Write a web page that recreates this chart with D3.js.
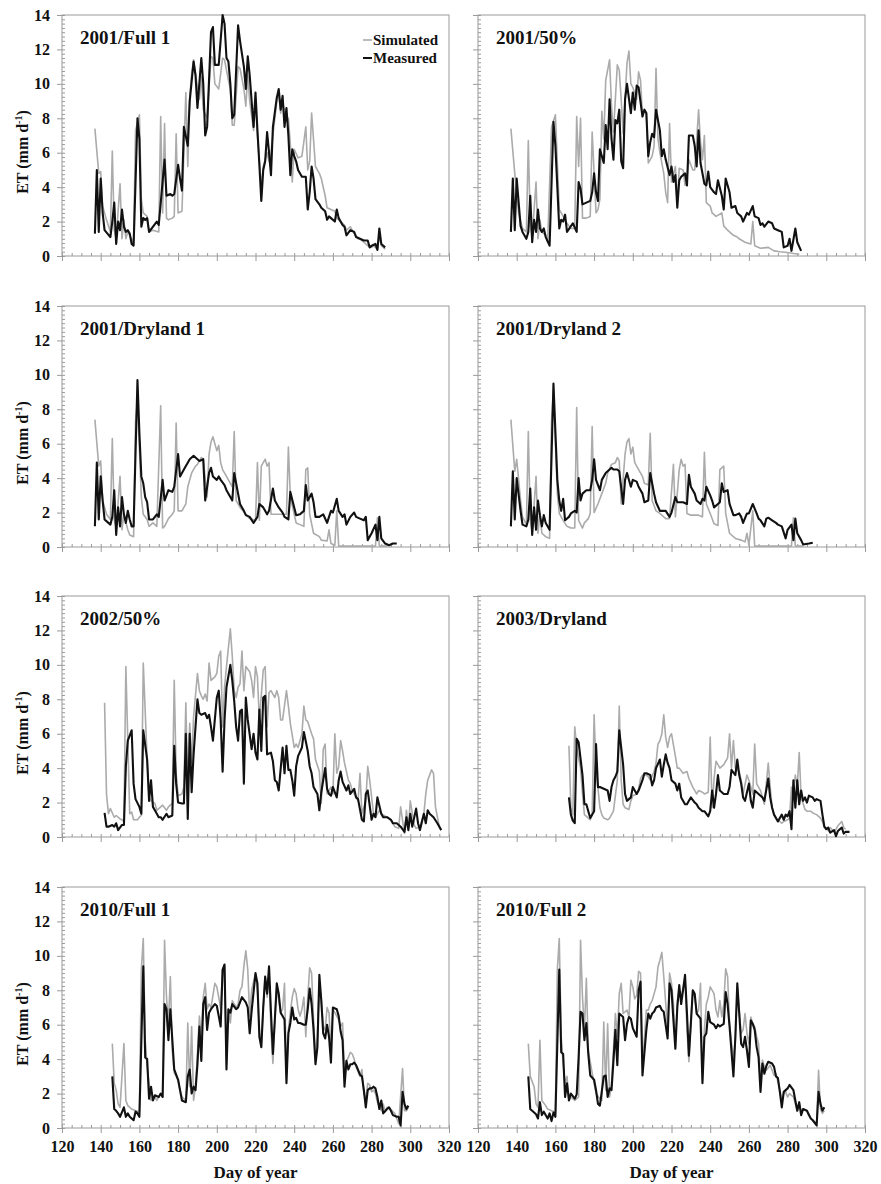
<!DOCTYPE html>
<html>
<head>
<meta charset="utf-8">
<script src="https://cdn.jsdelivr.net/npm/d3@7"></script>
<style>
  body { margin: 0; background: #fff; }
  text { font-family: "Liberation Serif", "Times New Roman", serif; font-weight: bold; fill: #111; }
</style>
</head>
<body>
<div id="viz"></div>
<script>
// axis ticks / labels
var dayTicks = [120, 140, 160, 180, 200, 220, 240, 260, 280, 300, 320];
var etTicks = [0, 2, 4, 6, 8, 10, 12, 14];
var panelTitles = ["2001/Full 1", "2001/50%", "2001/Dryland 1", "2001/Dryland 2",
  "2002/50%", "2003/Dryland", "2010/Full 1", "2010/Full 2"];
var seriesNames = ["Simulated", "Measured"];

// [day of year, ET mm/d]
var sim2001Full1 = [[137,7.4],[139,4.8],[140,4.9],[141,2.9],[143,2.1],[145,1.4],[146,6.1],[147,1.5],[148,1.0],[150,4.2],[151,1.0],[152,2.1],[153,1.0],[154,1.4],[156,1.0],[157,0.8],[158,7.3],[160,8.2],[161,3.3],[162,2.5],[164,2.3],[165,1.4],[167,1.5],[170,1.4],[171,8.1],[172,2.5],[173,7.7],[174,2.2],[175,2.1],[177,2.2],[178,2.3],[179,7.1],[180,2.5],[182,2.6],[184,9.5],[185,5.2],[186,9.1],[187,10.6],[188,11.4],[190,9.8],[191,9.1],[192,10.4],[193,8.5],[195,8.0],[197,11.6],[198,11.5],[199,10.0],[201,9.7],[203,11.5],[204,11.4],[206,10.2],[207,9.7],[208,7.6],[209,7.6],[211,11.0],[212,10.9],[214,9.7],[215,8.7],[216,10.5],[217,9.0],[219,7.3],[220,9.0],[221,7.0],[222,5.5],[223,4.0],[224,5.2],[226,6.0],[227,5.5],[228,6.0],[231,9.0],[232,9.5],[233,8.3],[234,9.0],[236,7.8],[237,8.0],[238,6.5],[239,4.3],[240,6.2],[242,5.7],[244,5.8],[246,7.5],[247,5.0],[248,5.5],[249,8.3],[251,5.2],[253,4.8],[254,4.5],[256,3.5],[257,2.8],[259,2.7],[261,2.6],[262,2.2],[264,2.0],[266,1.8],[267,1.5],[269,1.7],[271,1.3],[273,1.0],[274,1.0],[276,0.8],[278,0.6],[280,0.5],[281,0.6],[283,0.4],[284,1.2],[285,0.6],[287,0.4]];
var meas2001Full1 = [[137,1.3],[138,5.0],[139,1.4],[140,4.5],[141,2.5],[142,1.5],[145,1.1],[146,2.0],[147,3.1],[148,0.7],[149,2.0],[150,1.5],[151,2.7],[152,1.7],[153,1.4],[154,1.5],[155,1.3],[156,0.7],[157,0.6],[159,8.0],[160,6.8],[161,1.7],[162,2.2],[163,2.1],[164,2.2],[165,1.4],[169,2.0],[170,1.8],[173,5.6],[174,3.5],[176,3.6],[177,3.5],[178,3.6],[180,5.3],[181,4.5],[182,3.8],[183,7.5],[185,6.4],[186,9.0],[188,11.3],[189,10.5],[190,8.6],[192,11.5],[193,10.0],[194,7.0],[195,7.5],[197,13.0],[198,13.3],[199,11.1],[201,11.1],[203,14.0],[204,13.5],[205,11.5],[206,11.3],[207,10.0],[208,8.0],[209,8.2],[211,13.4],[212,12.5],[214,11.0],[215,9.7],[216,11.6],[217,10.5],[219,7.5],[220,9.5],[221,7.3],[222,5.3],[223,3.2],[224,5.0],[225,5.5],[226,7.2],[227,6.0],[228,4.7],[229,7.5],[231,9.2],[232,9.7],[233,8.5],[234,9.3],[235,7.5],[236,8.6],[237,7.0],[238,4.7],[239,6.2],[240,5.8],[241,5.5],[242,5.0],[244,4.6],[245,4.6],[246,4.6],[247,2.7],[248,3.7],[249,5.2],[250,4.5],[251,3.3],[253,3.0],[254,2.8],[256,2.6],[257,2.1],[258,2.3],[259,2.2],[261,2.0],[262,2.7],[263,2.2],[265,1.8],[266,1.7],[267,1.2],[269,1.5],[271,1.4],[272,1.1],[274,1.0],[276,0.9],[278,0.9],[279,0.5],[280,0.6],[282,0.7],[283,0.35],[284,1.6],[285,0.7],[287,0.5]];

var sim2001Half = [[137,7.4],[139,4.8],[141,2.5],[143,1.6],[145,1.4],[146,6.7],[147,1.75],[148,1.1],[150,4.3],[151,1.0],[152,2.1],[153,1.4],[155,1.2],[156,0.8],[158,7.5],[160,8.2],[162,2.7],[163,2.5],[166,1.9],[168,1.6],[170,1.6],[171,8.1],[172,5.2],[173,8.0],[174,2.2],[176,2.2],[178,2.3],[179,7.2],[181,2.5],[182,2.7],[183,3.3],[184,8.4],[185,6.8],[186,10.2],[188,11.4],[189,8.7],[190,7.2],[192,11.1],[193,10.8],[194,9.1],[195,7.1],[197,11.2],[198,11.9],[199,10.0],[200,9.8],[202,9.1],[203,10.7],[204,10.2],[205,8.1],[206,8.5],[207,8.3],[208,5.4],[210,5.8],[211,6.4],[212,10.9],[213,6.8],[214,6.0],[216,4.8],[217,3.7],[218,3.1],[219,7.7],[220,4.3],[222,5.2],[223,3.1],[224,5.1],[226,5.0],[227,4.1],[228,4.6],[229,5.6],[231,5.0],[232,5.0],[234,8.5],[235,6.6],[236,5.6],[237,7.0],[238,3.1],[240,2.9],[241,2.5],[243,2.3],[246,2.5],[247,1.75],[249,1.5],[252,1.2],[254,1.1],[255,1.0],[258,0.8],[261,0.7],[262,2.0],[263,0.6],[266,0.45],[270,0.5],[273,0.3],[276,0.25],[280,0.2],[283,0.15],[286,0.1]];
var meas2001Half = [[137,1.4],[138,4.5],[139,1.5],[140,4.5],[142,1.75],[143,1.4],[145,1.0],[146,1.4],[147,3.5],[148,0.8],[149,2.1],[150,1.4],[151,2.7],[152,1.6],[153,1.4],[154,1.6],[155,1.1],[157,0.6],[159,7.8],[160,6.4],[162,1.6],[163,2.1],[164,2.0],[165,2.4],[166,1.4],[169,1.9],[171,1.4],[172,4.3],[173,3.9],[174,3.0],[176,3.1],[178,3.2],[179,3.7],[180,4.8],[181,3.7],[182,3.2],[183,6.2],[185,5.4],[186,7.6],[187,6.2],[188,9.1],[189,6.8],[190,5.6],[191,7.9],[192,7.7],[193,8.5],[194,5.5],[195,5.1],[196,9.1],[197,10.0],[199,8.3],[200,9.5],[201,8.5],[202,9.9],[203,9.8],[205,8.1],[206,8.5],[207,8.3],[208,5.8],[209,6.6],[210,7.1],[211,6.9],[212,8.5],[214,7.3],[215,5.8],[216,6.2],[217,5.6],[219,4.7],[220,5.2],[221,4.3],[222,4.7],[223,2.8],[224,4.4],[225,4.6],[227,4.8],[228,4.1],[229,7.0],[231,7.0],[232,6.4],[233,5.2],[234,7.3],[235,5.4],[237,4.2],[238,4.1],[239,4.9],[240,4.0],[242,3.7],[243,3.6],[244,4.4],[246,3.5],[247,2.7],[248,4.5],[250,3.7],[251,2.8],[253,2.9],[254,2.5],[256,2.3],[257,2.0],[259,2.5],[260,2.4],[262,2.9],[263,2.3],[265,2.2],[266,1.8],[267,1.9],[268,1.7],[270,2.0],[272,1.9],[273,1.6],[275,1.5],[277,1.4],[278,0.5],[280,0.6],[281,1.0],[282,0.3],[284,1.6],[285,0.8],[287,0.3]];

var sim2001Dry1 = [[137,7.4],[139,4.7],[140,5.0],[141,2.7],[143,1.9],[145,1.6],[146,6.3],[147,1.6],[148,1.1],[150,4.1],[151,1.0],[152,1.9],[154,1.0],[155,0.7],[157,0.6],[158,7.3],[159,8.5],[161,2.9],[162,1.9],[164,1.6],[165,1.2],[167,1.4],[169,1.2],[171,8.2],[172,1.1],[173,1.2],[175,1.65],[177,1.9],[178,2.1],[179,7.2],[180,2.1],[182,2.1],[184,2.5],[185,3.5],[187,4.3],[189,4.7],[190,4.8],[192,5.2],[193,5.1],[195,2.9],[196,5.4],[197,6.1],[198,6.4],[200,5.6],[201,5.9],[202,4.9],[203,4.5],[205,4.1],[207,3.7],[208,3.5],[209,6.7],[210,2.7],[212,2.3],[215,1.9],[217,1.65],[220,1.55],[221,4.9],[222,1.55],[223,4.7],[225,5.1],[226,4.7],[227,4.9],[228,1.9],[229,1.9],[231,1.9],[234,1.9],[236,1.9],[237,5.8],[238,2.9],[240,1.9],[241,1.4],[243,1.3],[245,1.2],[246,4.5],[247,4.6],[248,1.9],[250,0.8],[253,0.6],[254,0.4],[257,0.35],[258,1.0],[259,0.2],[261,0.1],[262,2.1],[263,0.05],[267,0.05],[274,0.05],[282,0.05],[283,1.7],[284,0.05],[288,0.05]];
var meas2001Dry1 = [[137,1.2],[138,4.9],[139,1.6],[140,4.1],[141,2.7],[142,1.6],[144,1.4],[145,1.3],[146,1.75],[147,3.3],[148,0.7],[149,2.3],[150,1.2],[151,2.9],[152,1.9],[153,1.4],[154,2.1],[155,1.6],[156,1.2],[157,1.2],[159,9.7],[160,6.6],[161,4.1],[162,3.7],[163,2.9],[164,2.6],[165,1.6],[167,1.6],[169,1.9],[170,1.75],[172,3.9],[173,2.7],[175,3.3],[177,3.2],[178,3.5],[180,5.4],[181,4.1],[182,4.3],[184,4.7],[185,4.9],[186,5.1],[188,5.3],[190,5.1],[191,5.0],[193,5.1],[194,2.7],[196,4.3],[197,4.6],[198,4.1],[200,3.9],[201,4.1],[202,3.9],[204,3.6],[205,3.3],[207,2.9],[208,2.7],[209,4.3],[211,3.1],[212,2.5],[214,2.1],[215,1.85],[217,1.75],[219,1.4],[221,1.75],[222,2.5],[224,2.3],[226,1.9],[227,2.1],[229,3.4],[230,2.7],[232,2.3],[234,2.0],[235,1.75],[237,1.6],[238,3.2],[240,2.3],[241,1.85],[243,1.9],[245,2.1],[246,3.6],[247,2.7],[249,3.1],[250,2.6],[251,1.75],[253,1.75],[255,1.9],[257,1.4],[259,2.1],[260,2.0],[262,2.8],[263,2.1],[265,1.75],[266,1.9],[267,1.3],[269,1.75],[271,2.0],[272,1.75],[274,1.65],[276,1.55],[277,1.75],[278,0.4],[280,0.8],[282,1.3],[283,0.4],[284,1.75],[285,0.5],[287,0.2],[289,0.1],[291,0.2],[293,0.2]];

var sim2001Dry2 = [[137,7.4],[139,4.4],[140,5.1],[142,2.7],[143,1.75],[145,1.3],[146,6.7],[147,1.55],[148,0.8],[150,4.1],[151,0.8],[152,1.95],[153,0.8],[155,0.6],[157,0.5],[158,7.3],[159,9.1],[161,3.1],[162,1.95],[164,1.55],[166,1.2],[168,1.1],[170,1.1],[171,8.1],[172,1.55],[174,1.1],[175,1.4],[177,1.65],[178,1.95],[179,7.0],[180,2.0],[182,2.5],[184,3.1],[186,3.7],[187,4.3],[189,4.8],[191,4.9],[192,5.2],[193,5.0],[194,2.5],[196,5.4],[197,6.1],[198,6.3],[199,5.4],[200,5.8],[201,4.9],[203,4.5],[205,4.1],[206,3.7],[208,3.6],[209,6.6],[210,2.7],[212,2.1],[214,1.95],[217,1.65],[219,1.65],[221,4.8],[222,1.75],[224,4.5],[225,5.1],[226,4.7],[227,4.8],[228,1.95],[230,1.85],[231,1.85],[234,1.85],[236,1.75],[237,5.5],[238,2.5],[240,1.95],[242,1.35],[244,1.25],[245,4.5],[247,4.7],[248,1.95],[250,0.8],[253,0.5],[256,0.4],[258,0.3],[259,0.8],[260,0.1],[262,2.1],[263,0.05],[269,0.05],[276,0.05],[282,0.05],[283,1.7],[284,0.05],[288,0.05]];
var meas2001Dry2 = [[137,1.2],[138,4.4],[139,1.6],[140,4.0],[142,2.1],[143,1.3],[145,1.2],[146,1.6],[147,3.4],[148,0.7],[149,2.3],[150,1.0],[151,2.7],[152,1.85],[153,1.2],[154,1.85],[155,1.4],[157,1.0],[159,9.5],[161,3.9],[162,2.7],[163,2.1],[164,2.8],[165,1.55],[167,1.75],[168,1.95],[170,2.1],[171,2.0],[172,4.0],[173,2.7],[174,3.1],[176,3.3],[178,3.3],[179,3.9],[180,5.1],[181,3.9],[183,3.3],[184,3.9],[186,4.3],[187,4.4],[189,4.6],[190,4.5],[192,4.5],[193,4.4],[195,2.5],[196,3.9],[197,4.3],[199,3.5],[200,3.9],[202,3.8],[203,3.5],[205,3.1],[206,2.6],[208,2.7],[209,4.3],[211,3.1],[212,2.6],[214,2.1],[215,2.1],[217,2.1],[219,1.75],[220,2.0],[222,2.9],[223,2.6],[224,2.6],[226,2.6],[228,2.5],[229,4.2],[230,3.5],[232,3.1],[233,2.7],[235,2.5],[236,2.8],[237,2.7],[238,3.5],[240,3.0],[241,2.7],[242,2.3],[244,2.5],[245,2.6],[246,3.7],[247,3.2],[249,3.3],[250,2.5],[252,1.85],[253,1.85],[255,1.95],[256,1.75],[257,1.4],[259,1.95],[260,1.95],[262,2.5],[264,1.95],[265,1.65],[266,1.55],[268,1.2],[269,1.65],[270,1.7],[272,1.55],[274,1.4],[275,1.3],[277,1.2],[279,0.5],[280,1.0],[282,1.3],[283,0.4],[284,1.65],[285,0.8],[287,0.4],[288,0.15],[291,0.2],[293,0.25]];

var sim2002Half = [[142,7.8],[143,2.5],[144,1.35],[145,1.65],[147,1.15],[148,1.25],[150,1.05],[151,1.0],[152,0.9],[153,9.9],[155,1.35],[156,1.45],[157,1.0],[159,1.0],[160,1.15],[161,1.25],[162,10.1],[164,4.5],[165,2.3],[166,2.1],[168,1.95],[169,1.55],[171,1.75],[172,1.85],[174,1.55],[175,1.75],[177,1.95],[178,9.1],[179,3.7],[180,2.4],[182,2.5],[183,2.9],[184,7.8],[185,2.5],[186,6.6],[187,4.3],[188,7.0],[190,9.5],[191,8.5],[192,8.2],[193,8.0],[194,8.3],[195,7.9],[196,10.1],[197,9.1],[199,9.3],[200,9.5],[201,10.5],[202,10.8],[203,6.4],[204,8.7],[205,9.9],[207,12.1],[208,10.5],[209,8.5],[210,8.1],[211,8.7],[212,8.9],[213,10.8],[214,8.5],[215,9.9],[217,9.6],[218,9.1],[219,8.1],[220,9.9],[221,9.3],[222,6.8],[224,9.7],[225,9.9],[226,6.4],[227,8.4],[228,8.5],[230,8.1],[231,8.5],[232,8.1],[233,6.8],[234,6.8],[236,8.5],[237,7.6],[238,6.6],[240,5.2],[241,5.4],[242,5.2],[244,6.0],[245,7.6],[246,6.8],[247,6.7],[249,6.0],[250,5.7],[251,4.5],[253,3.8],[254,1.95],[255,5.1],[256,5.4],[257,2.5],[259,2.9],[260,2.5],[261,6.0],[262,3.7],[263,4.1],[264,5.6],[265,5.0],[266,4.3],[268,3.3],[269,3.1],[270,2.7],[272,2.3],[273,2.1],[274,3.7],[275,1.35],[277,2.1],[278,4.1],[279,3.3],[281,1.35],[282,1.15],[284,1.55],[285,1.35],[288,1.15],[290,1.0],[292,0.6],[294,0.5],[295,1.75],[297,0.2],[298,1.55],[299,0.5],[300,2.1],[302,0.7],[303,0.5],[305,0.6],[307,1.35],[308,2.5],[309,3.3],[311,3.9],[312,3.7],[313,1.75],[315,0.6]];
var meas2002Half = [[142,1.4],[143,0.6],[144,0.6],[146,0.7],[147,0.6],[148,0.8],[149,0.4],[151,0.7],[152,0.7],[153,4.1],[154,5.6],[156,6.2],[157,3.1],[158,2.2],[160,1.75],[161,1.35],[162,6.2],[164,4.5],[165,2.1],[166,3.3],[167,1.75],[168,1.55],[170,1.15],[171,1.15],[172,1.0],[174,1.35],[175,1.15],[177,1.25],[178,5.3],[179,3.1],[180,2.0],[182,1.95],[183,1.95],[184,6.0],[185,1.05],[186,6.0],[187,2.6],[188,4.8],[190,8.0],[191,7.2],[192,7.1],[194,7.2],[195,6.9],[196,7.1],[197,6.4],[198,5.6],[200,8.1],[201,8.5],[202,6.8],[203,3.8],[204,6.8],[205,8.7],[207,10.0],[208,9.1],[209,7.9],[210,6.4],[211,5.6],[212,7.3],[213,7.4],[214,3.1],[215,8.1],[216,6.8],[218,5.1],[219,6.0],[220,4.9],[221,4.5],[222,7.4],[223,5.0],[224,8.1],[225,8.2],[226,4.8],[228,4.9],[229,4.4],[230,3.3],[231,3.2],[232,2.7],[234,5.2],[235,3.7],[236,5.3],[237,3.9],[238,3.9],[239,3.3],[240,2.4],[241,4.1],[242,4.7],[244,5.2],[245,6.1],[247,5.0],[248,4.1],[249,3.7],[250,2.9],[252,2.5],[253,1.55],[254,2.6],[256,4.0],[257,2.8],[258,2.5],[259,2.4],[260,2.9],[262,2.3],[263,3.3],[264,3.8],[265,3.2],[267,2.7],[268,3.0],[269,2.5],[271,2.8],[272,2.3],[273,2.2],[275,1.0],[276,0.9],[277,2.5],[278,2.7],[280,1.0],[281,1.35],[282,1.15],[283,2.3],[285,1.35],[286,1.15],[288,1.15],[290,1.0],[291,0.8],[293,0.8],[295,0.6],[297,0.3],[298,1.15],[299,0.4],[300,1.35],[301,0.6],[303,1.65],[304,0.8],[305,0.4],[307,1.35],[308,0.8],[309,1.55],[310,1.35],[312,1.15],[314,0.8],[316,0.4]];

var sim2003Dry = [[167,5.3],[168,1.7],[169,1.3],[170,6.4],[171,5.2],[173,4.0],[174,2.5],[175,1.3],[177,1.1],[178,1.0],[179,1.3],[180,7.1],[181,4.0],[183,1.7],[184,1.3],[185,1.1],[187,1.0],[188,1.1],[189,1.3],[190,1.5],[192,3.3],[193,7.6],[194,3.3],[195,1.9],[196,1.7],[198,1.6],[199,2.1],[200,2.4],[202,2.5],[203,2.8],[204,3.4],[205,3.6],[207,3.6],[208,3.5],[209,3.3],[211,3.8],[212,4.3],[213,5.4],[214,5.6],[215,6.0],[216,7.1],[217,5.8],[218,5.2],[219,5.8],[220,6.0],[222,4.7],[223,4.0],[224,4.0],[226,3.7],[228,3.8],[229,3.4],[231,2.9],[233,2.5],[234,2.7],[236,2.6],[237,2.5],[239,2.6],[240,5.8],[241,1.7],[242,3.4],[243,4.4],[244,4.2],[245,4.0],[247,4.2],[248,4.4],[249,4.6],[250,6.0],[251,4.0],[252,5.6],[253,4.0],[255,3.8],[256,3.3],[257,2.5],[259,3.6],[260,3.3],[261,2.9],[262,2.5],[263,5.4],[264,3.1],[266,2.7],[267,2.3],[268,1.9],[270,4.3],[271,2.9],[272,1.7],[273,1.3],[274,1.1],[276,0.9],[277,0.8],[278,0.9],[280,1.0],[281,1.1],[282,2.9],[283,2.7],[284,3.6],[285,2.9],[286,4.9],[287,2.3],[289,1.6],[290,1.5],[292,1.5],[293,1.4],[295,1.3],[297,1.1],[298,0.9],[299,0.55],[300,0.55],[301,0.35],[302,0.55],[304,0.3],[305,0.45],[306,0.65],[308,0.9],[309,0.55],[310,0.45]];
var meas2003Dry = [[167,2.3],[168,1.3],[169,0.95],[170,0.8],[171,5.7],[172,5.5],[174,3.6],[175,1.9],[176,1.9],[177,1.5],[178,1.1],[180,1.5],[181,5.4],[182,2.9],[183,2.9],[185,2.8],[187,2.7],[188,2.1],[189,2.9],[190,3.3],[191,3.5],[192,3.8],[193,6.2],[195,4.2],[196,2.5],[197,2.1],[199,2.3],[200,2.9],[201,2.7],[202,2.5],[203,2.7],[205,3.3],[206,3.7],[207,3.7],[209,3.6],[210,3.0],[211,3.3],[212,4.0],[214,4.5],[215,3.5],[216,4.2],[217,4.8],[218,4.3],[219,4.0],[220,3.3],[222,3.1],[223,2.7],[224,3.1],[225,2.3],[227,1.9],[228,1.9],[229,2.1],[230,2.3],[232,2.0],[233,1.9],[234,1.7],[236,1.5],[237,1.5],[239,1.2],[240,1.5],[241,2.7],[242,1.7],[243,2.5],[244,3.6],[245,2.7],[247,2.5],[248,2.5],[249,2.5],[250,2.9],[251,3.9],[253,3.6],[254,4.5],[255,3.6],[256,3.1],[257,2.3],[258,2.1],[260,3.1],[261,2.1],[262,1.7],[263,2.7],[265,2.5],[266,2.4],[267,2.3],[268,2.1],[270,3.4],[271,2.3],[272,1.7],[273,1.3],[275,0.9],[276,1.1],[277,1.3],[278,1.0],[279,1.3],[280,1.2],[281,1.5],[282,0.45],[283,3.3],[284,1.7],[285,3.3],[286,1.9],[287,2.7],[288,2.1],[289,2.3],[290,2.0],[291,2.4],[293,2.3],[294,2.1],[295,2.2],[297,2.1],[298,1.3],[299,0.6],[300,0.45],[301,0.55],[302,0.25],[304,0.4],[305,0.05],[306,0.35],[308,0.55],[309,0.2],[310,0.3],[312,0.3]];

var sim2010Full1 = [[146,4.9],[147,2.6],[148,2.2],[149,1.4],[150,1.2],[152,4.9],[153,1.6],[154,1.3],[156,1.1],[158,1.0],[160,0.95],[161,9.2],[162,11.0],[163,5.1],[164,3.6],[165,2.6],[166,1.6],[168,1.8],[169,1.6],[171,2.0],[172,1.8],[173,10.9],[174,7.6],[175,6.1],[176,8.8],[177,4.5],[178,3.2],[180,2.8],[181,2.2],[182,1.8],[184,1.6],[185,6.1],[186,2.4],[187,5.9],[188,1.6],[189,2.4],[190,4.3],[191,6.5],[192,5.3],[193,7.6],[194,8.4],[195,6.9],[196,7.2],[197,7.0],[199,8.4],[200,8.2],[201,7.6],[202,6.9],[203,9.2],[204,9.4],[205,3.7],[206,6.9],[207,6.1],[208,7.4],[210,7.0],[211,7.2],[212,8.0],[213,8.2],[214,9.4],[215,10.3],[216,9.2],[217,6.5],[218,8.0],[220,9.0],[221,8.0],[222,5.7],[223,4.7],[224,7.0],[225,8.8],[226,7.6],[227,9.0],[228,5.7],[229,3.75],[230,6.3],[231,8.2],[232,7.4],[233,6.7],[234,6.9],[235,8.4],[236,3.0],[237,5.7],[238,6.7],[239,7.6],[240,8.1],[241,7.8],[242,6.9],[243,6.5],[244,6.9],[245,7.6],[246,5.3],[247,7.6],[248,9.3],[249,9.0],[250,6.3],[251,4.1],[252,5.3],[253,8.4],[254,7.4],[255,5.9],[256,5.7],[257,7.0],[258,6.7],[259,4.5],[260,6.9],[262,6.5],[263,6.3],[264,5.9],[265,6.1],[266,3.0],[267,3.9],[268,4.1],[269,4.4],[270,4.3],[271,4.0],[272,3.55],[274,3.0],[275,3.4],[276,2.0],[277,1.6],[278,2.6],[279,2.5],[280,2.1],[281,2.2],[282,2.0],[283,1.5],[285,1.0],[286,1.4],[287,0.95],[288,1.2],[289,1.2],[291,0.95],[292,0.85],[293,0.55],[294,0.25],[296,3.45],[297,1.0],[298,1.0],[299,1.2]];
var meas2010Full1 = [[146,3.0],[147,1.1],[148,1.0],[149,0.85],[150,0.65],[152,1.2],[153,0.65],[154,0.85],[155,0.65],[157,0.45],[158,0.95],[159,0.85],[160,0.65],[162,9.4],[163,4.1],[164,4.0],[165,1.7],[166,2.4],[167,1.6],[168,1.9],[170,1.8],[171,2.0],[172,1.8],[173,7.2],[174,6.9],[175,5.1],[176,6.9],[178,3.4],[179,3.1],[180,2.8],[181,2.2],[182,1.6],[184,1.5],[185,3.0],[186,3.4],[187,2.0],[188,2.4],[189,2.2],[190,3.7],[191,5.9],[192,3.9],[193,7.2],[194,7.6],[195,5.7],[196,6.7],[197,6.9],[199,7.2],[200,7.1],[201,6.5],[202,5.9],[203,9.2],[204,9.5],[205,3.4],[206,6.9],[207,6.7],[208,7.2],[210,6.9],[211,7.0],[212,7.3],[213,7.6],[215,7.3],[216,7.0],[217,5.5],[218,6.8],[220,9.0],[221,8.4],[222,5.3],[223,4.7],[224,7.0],[225,8.8],[226,7.8],[227,9.4],[228,6.7],[229,4.3],[230,6.3],[231,8.4],[232,7.8],[233,6.7],[234,6.5],[235,6.3],[236,2.6],[237,5.5],[238,6.1],[239,7.0],[240,6.3],[241,6.4],[242,6.1],[243,6.1],[245,6.0],[246,6.0],[247,6.9],[248,8.1],[249,7.2],[250,5.7],[251,3.7],[252,4.7],[253,8.9],[254,7.4],[255,5.5],[256,5.2],[257,6.0],[258,5.3],[259,3.8],[260,7.0],[262,6.9],[263,6.5],[264,5.6],[265,5.1],[266,2.4],[267,3.9],[268,3.4],[269,3.7],[270,3.7],[271,3.8],[272,3.65],[274,3.1],[275,3.0],[276,2.2],[277,1.2],[278,2.2],[279,2.3],[280,2.3],[281,2.4],[282,2.3],[283,1.8],[284,1.1],[285,1.6],[286,0.85],[288,1.1],[289,1.2],[290,1.0],[291,0.75],[293,0.65],[294,0.65],[295,0.15],[296,2.1],[297,1.4],[298,1.1],[299,1.3]];

var sim2010Full2 = [[146,4.9],[147,3.0],[149,2.4],[150,1.4],[151,1.2],[152,5.1],[153,1.6],[155,1.3],[156,1.1],[158,1.0],[160,0.9],[161,9.2],[162,11.0],[163,5.3],[164,3.75],[165,2.6],[166,3.0],[167,1.6],[168,1.8],[170,1.6],[172,1.8],[173,10.9],[174,7.6],[175,5.7],[176,8.7],[177,4.5],[179,3.2],[180,2.6],[181,2.0],[183,1.7],[184,1.6],[185,6.15],[186,2.2],[187,6.05],[188,1.8],[189,2.6],[190,4.5],[191,6.65],[192,5.3],[193,7.8],[194,8.4],[195,6.65],[197,6.85],[198,6.45],[199,8.6],[200,8.2],[201,7.5],[202,7.7],[203,9.1],[204,9.0],[205,3.55],[207,6.85],[208,6.85],[209,7.2],[210,7.4],[211,7.8],[212,8.2],[213,9.35],[214,9.75],[215,10.2],[216,8.8],[218,5.7],[219,9.0],[220,8.4],[221,7.2],[222,4.7],[223,7.4],[224,8.0],[225,7.6],[227,8.6],[228,5.7],[229,3.85],[230,6.25],[231,8.0],[232,7.6],[233,6.65],[234,6.85],[235,8.4],[236,2.8],[237,5.7],[238,7.2],[239,7.6],[240,8.2],[242,7.8],[243,6.85],[244,6.45],[245,7.4],[246,6.45],[247,7.2],[248,9.25],[249,8.8],[250,6.05],[252,3.95],[253,5.1],[254,8.2],[255,6.85],[256,5.5],[257,5.7],[258,6.65],[259,5.5],[260,4.9],[261,6.45],[262,6.05],[263,5.9],[264,5.3],[265,4.9],[266,2.6],[267,3.95],[268,3.55],[269,3.35],[271,3.65],[272,3.35],[273,3.05],[274,3.15],[276,2.2],[277,1.6],[278,2.0],[279,2.1],[280,1.8],[281,2.0],[283,1.8],[284,1.4],[285,1.0],[286,1.4],[287,0.95],[288,1.1],[290,1.0],[291,0.85],[292,0.55],[293,0.45],[295,0.25],[296,3.35],[297,1.1],[298,0.85],[299,1.0]];
var meas2010Full2 = [[146,3.0],[147,1.1],[148,1.0],[150,0.8],[151,0.55],[152,1.5],[153,0.75],[154,0.95],[156,0.55],[157,0.85],[158,0.4],[159,0.9],[160,0.65],[162,9.2],[163,4.4],[164,4.3],[165,1.8],[166,2.6],[167,1.6],[168,2.0],[170,1.7],[171,1.95],[172,4.1],[173,6.75],[174,6.65],[175,5.1],[176,6.1],[177,4.3],[178,3.05],[180,2.8],[181,2.2],[182,1.4],[183,1.3],[185,3.0],[186,3.05],[187,1.8],[188,2.3],[189,2.2],[190,3.9],[191,5.7],[192,3.65],[193,6.65],[195,6.45],[196,5.1],[197,6.05],[198,6.45],[199,6.35],[200,5.8],[202,5.3],[203,8.0],[204,8.5],[205,3.05],[207,5.7],[208,6.65],[209,6.35],[210,6.65],[211,6.75],[212,7.0],[214,7.1],[215,6.85],[216,6.75],[218,5.2],[219,8.4],[220,8.0],[221,6.25],[222,4.6],[223,7.0],[224,8.3],[225,7.2],[227,8.9],[228,6.65],[229,4.2],[230,6.05],[231,8.0],[232,7.8],[233,6.65],[235,6.35],[236,2.6],[237,5.3],[238,5.5],[239,6.75],[240,6.15],[242,6.0],[243,5.8],[244,6.0],[245,5.9],[247,6.05],[248,7.9],[249,7.2],[250,5.9],[252,3.0],[253,5.3],[254,8.4],[255,6.65],[256,4.9],[257,4.7],[258,5.3],[259,4.5],[260,3.55],[261,6.25],[262,6.05],[263,5.7],[264,4.7],[265,4.1],[266,2.1],[267,3.75],[268,3.15],[269,3.6],[270,3.85],[272,3.75],[273,3.55],[274,3.0],[275,2.9],[276,2.1],[277,1.2],[278,2.1],[279,2.2],[280,2.3],[281,2.5],[283,2.2],[284,1.6],[285,1.0],[286,1.5],[287,0.75],[288,1.1],[290,1.0],[291,0.75],[292,0.55],[293,0.45],[295,0.15],[296,2.1],[297,1.4],[298,1.0],[299,1.2]];

var panels = [
  { title: panelTitles[0], sim: sim2001Full1, meas: meas2001Full1 },
  { title: panelTitles[1], sim: sim2001Half, meas: meas2001Half },
  { title: panelTitles[2], sim: sim2001Dry1, meas: meas2001Dry1 },
  { title: panelTitles[3], sim: sim2001Dry2, meas: meas2001Dry2 },
  { title: panelTitles[4], sim: sim2002Half, meas: meas2002Half },
  { title: panelTitles[5], sim: sim2003Dry, meas: meas2003Dry },
  { title: panelTitles[6], sim: sim2010Full1, meas: meas2010Full1 },
  { title: panelTitles[7], sim: sim2010Full2, meas: meas2010Full2 }
];

var W = 881, H = 1184;
var colLeft = [62, 478], rowTop = [15, 306, 596, 887];
var plotW = 387, plotH = 241;
var frameColor = "#9a9a9a";
var simColor = "#ababab", measColor = "#111";

var svg = d3.select("#viz").append("svg")
  .attr("width", W)
  .attr("height", H);

var x = d3.scaleLinear().domain([120, 320]).range([0, plotW]);
var y = d3.scaleLinear().domain([0, 14]).range([plotH, 0]);

var line = d3.line()
  .x(function (d) { return x(d[0]); })
  .y(function (d) { return y(d[1]); });

panels.forEach(function (p, i) {
  var col = i % 2, row = Math.floor(i / 2);
  var g = svg.append("g")
    .attr("transform", "translate(" + colLeft[col] + "," + rowTop[row] + ")");

  g.append("rect")
    .attr("width", plotW)
    .attr("height", plotH)
    .attr("fill", "none")
    .attr("stroke", frameColor)
    .attr("stroke-width", 1);

  // minor x ticks point up into the plot
  g.append("g")
    .attr("class", "axis")
    .attr("transform", "translate(0," + plotH + ")")
    .call(d3.axisTop(x).tickValues(d3.range(120, 321, 5)).tickSize(3).tickFormat(""));

  var xAxis = d3.axisBottom(x).tickValues(dayTicks).tickSize(5).tickPadding(8);
  if (row < 3) xAxis.tickFormat("");
  g.append("g")
    .attr("class", "axis xlab")
    .attr("transform", "translate(0," + plotH + ")")
    .call(xAxis);

  // minor y ticks point right
  g.append("g")
    .attr("class", "axis")
    .call(d3.axisRight(y).tickValues(d3.range(0, 14.001, 0.25)).tickSize(3).tickFormat(""));

  var yAxis = d3.axisLeft(y).tickValues(etTicks).tickSize(5).tickPadding(7);
  if (col == 1) yAxis.tickFormat("");
  g.append("g")
    .attr("class", "axis ylab")
    .call(yAxis);

  g.selectAll(".axis .domain").remove();
  g.selectAll(".axis line").attr("stroke", frameColor);
  g.selectAll(".axis text")
    .style("font-size", "16px")
    .attr("fill", "#111");

  g.append("path")
    .datum(p.sim)
    .attr("fill", "none")
    .attr("stroke", simColor)
    .attr("stroke-width", 1.6)
    .attr("stroke-linejoin", "round")
    .attr("d", line);

  g.append("path")
    .datum(p.meas)
    .attr("fill", "none")
    .attr("stroke", measColor)
    .attr("stroke-width", 2.1)
    .attr("stroke-linejoin", "round")
    .attr("d", line);

  g.append("text")
    .attr("x", 18)
    .attr("y", 29)
    .style("font-size", "19px")
    .text(p.title);

  if (col == 0) {
    var lab = svg.append("text")
      .attr("transform", "translate(28," + (rowTop[row] + 137) + ") rotate(-90)")
      .attr("text-anchor", "middle")
      .style("font-size", "16px");
    lab.append("tspan").text("ET (mm d");
    lab.append("tspan").attr("dy", -6).style("font-size", "10px").text("-1");
    lab.append("tspan").attr("dy", 6).text(")");
  }

  if (row == 3) {
    svg.append("text")
      .attr("x", colLeft[col] + plotW / 2)
      .attr("y", 1178)
      .attr("text-anchor", "middle")
      .style("font-size", "17px")
      .text("Day of year");
  }

  if (i == 0) {
    var leg = g.append("g").attr("transform", "translate(301,25)");
    [simColor, measColor].forEach(function (c, k) {
      leg.append("line")
        .attr("x1", 0).attr("x2", 9)
        .attr("y1", k * 18).attr("y2", k * 18)
        .attr("stroke", c)
        .attr("stroke-width", k == 0 ? 1.6 : 2);
      leg.append("text")
        .attr("x", 10)
        .attr("y", k * 18 + 5)
        .style("font-size", "15px")
        .text(seriesNames[k]);
    });
  }
});
</script>
</body>
</html>
